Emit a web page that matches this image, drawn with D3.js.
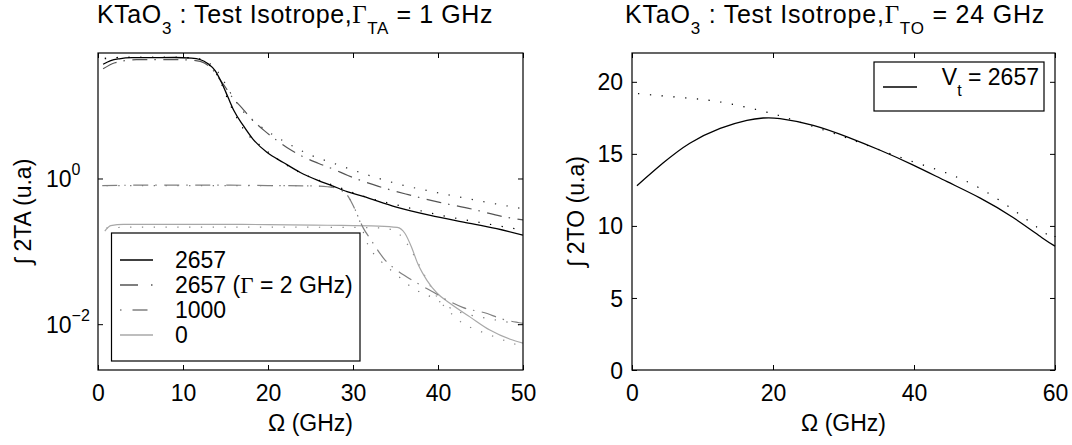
<!DOCTYPE html>
<html>
<head>
<meta charset="utf-8">
<script src="https://cdn.jsdelivr.net/npm/d3@7"></script>
<style>
  html, body { margin: 0; padding: 0; background: #fff; }
  svg text { font-family: "Liberation Sans", Arial, Helvetica, sans-serif; fill: #000; }
</style>
</head>
<body>
<svg id="chart" width="1072" height="445"></svg>
<script>
// ---------------- DATA ----------------
// Left panel: integral 2TA vs Omega (GHz), log scale
const xTicksTA = [0, 10, 20, 30, 40, 50];
const yTicksTA = [0.01, 1];
const yTickExpTA = ["\u22122", "0"];

const ta2657X = [0.6, 1.5, 2.5, 4, 9, 11, 12, 12.9, 13.8, 14.6, 15.3, 16, 17.1, 18.2, 19.9, 21.8, 23.8, 25.8, 27.5, 29.3, 31.2, 35.1, 39.1, 43, 46.9, 50];
const ta2657Y = [37, 41.5, 44, 45.5, 45.8, 45, 43, 38, 30, 20, 13, 8.5, 5.3, 3.5, 2.27, 1.66, 1.21, 0.95, 0.80, 0.66, 0.567, 0.404, 0.311, 0.252, 0.205, 0.167];

const ta2657g2X = [0.6, 2, 4.5, 9.4, 11.5, 12.5, 13.4, 14.2, 14.9, 15.8, 16.9, 17.9, 19.6, 21.1, 22.6, 24.1, 25.9, 27.5, 29.4, 33, 36.5, 40.2, 44, 47.6, 50];
const ta2657g2Y = [32, 38.8, 42.7, 42.7, 41.5, 38.5, 32, 24, 18.5, 13, 9.4, 6.9, 4.5, 3.3, 2.5, 2.0, 1.62, 1.37, 1.1, 0.78, 0.60, 0.47, 0.38, 0.30, 0.27];

const ta1000X = [0.5, 5, 10, 15, 20, 25, 27, 28, 29, 29.5, 30, 30.6, 31.2, 32, 33, 33.8, 34.9, 37.3, 39.1, 41.2, 42.9, 45.8, 47.3, 50];
const ta1000Y = [0.8, 0.81, 0.81, 0.81, 0.8, 0.79, 0.77, 0.74, 0.66, 0.55, 0.43, 0.3, 0.21, 0.15, 0.1, 0.075, 0.058, 0.038, 0.029, 0.021, 0.017, 0.014, 0.012, 0.0103];

const ta0X = [0.8, 1.5, 3, 10, 20, 27, 33, 35.2, 36.1, 36.9, 37.6, 38.7, 39.9, 41.4, 43.8, 46.1, 48.5, 50];
const ta0Y = [0.19, 0.225, 0.235, 0.235, 0.233, 0.228, 0.222, 0.213, 0.177, 0.113, 0.0685, 0.04, 0.0266, 0.0194, 0.0125, 0.0083, 0.0062, 0.0055];

// dotted companion curves (unlabelled)
const dot2657X = [0.8, 2, 4, 9, 11, 12, 12.9, 13.8, 14.6, 15.3, 16.4, 17.1, 19.1, 21.4, 23.8, 26.4, 27.5, 31.8, 35.9, 40, 44.2, 50];
const dot2657Y = [44, 45.5, 46, 46, 45.2, 43, 37.5, 29, 19, 12, 6.6, 4.8, 2.83, 1.76, 1.2, 0.91, 0.82, 0.544, 0.413, 0.318, 0.258, 0.195];

const dotG2X = [0.8, 3, 9, 11.5, 12.7, 13.6, 14.5, 15.3, 16.2, 17.2, 18.7, 20, 22.4, 25, 27.5, 31.6, 35.5, 39.9, 43.8, 50];
const dotG2Y = [45, 46, 46, 45, 41, 34, 25, 17, 11.5, 8, 5.7, 4.4, 3.0, 2.1, 1.65, 1.13, 0.83, 0.64, 0.52, 0.385];

const dot1000X = [1, 5, 10, 15, 20, 25, 27.5, 28.5, 29.5, 30.5, 31.8, 33.2, 35.2, 37.1, 39.4, 42, 45.8, 48.5, 50];
const dot1000Y = [0.8, 0.8, 0.8, 0.8, 0.8, 0.79, 0.76, 0.7, 0.55, 0.32, 0.12, 0.075, 0.047, 0.031, 0.023, 0.0155, 0.012, 0.0105, 0.0095];

const dot0X = [1, 5, 10, 20, 30, 33, 34.5, 35.5, 36.5, 37.5, 38.5, 39.9, 41.8, 42.9, 44.6, 46.1, 48.7, 50];
const dot0Y = [0.21, 0.215, 0.215, 0.215, 0.213, 0.21, 0.2, 0.17, 0.12, 0.075, 0.045, 0.0234, 0.0132, 0.0103, 0.0083, 0.0071, 0.0055, 0.0049];

const legendTA = ["2657", "2657 (\u0393 = 2 GHz)", "1000", "0"];

// Right panel: integral 2TO vs Omega (GHz), linear scale
const xTicksTO = [0, 20, 40, 60];
const yTicksTO = [0, 5, 10, 15, 20];
const toX = [0.7, 4.4, 8.2, 12.5, 16.3, 18.6, 21, 25.7, 30.5, 35.2, 39.9, 44.7, 49.4, 54, 58.1, 60];
const toY = [12.79, 14.36, 15.74, 16.77, 17.33, 17.49, 17.45, 16.98, 16.18, 15.25, 14.22, 13.07, 11.93, 10.6, 9.2, 8.6];
const toDotX = [0.85, 7.2, 12.5, 19.1, 23.8, 30.5, 39.9, 49.4, 58.3, 60];
const toDotY = [19.18, 18.9, 18.6, 17.9, 17.2, 16.1, 14.45, 12.6, 9.6, 9.3];

// ---------------- DRAW ----------------
const svg = d3.select("#chart");
const FS = 23;
const TFS = 25;
const zip = (xs, ys) => xs.map((x, i) => [x, ys[i]]);

function frame(g, x0, x1, y0, y1) {
  g.append("rect").attr("x", x0).attr("y", y0).attr("width", x1 - x0).attr("height", y1 - y0)
    .attr("fill", "none").attr("stroke", "#000").attr("stroke-width", 1.2);
}

// title spread over the span [xa, xb] measured on the reference
function title(xa, xb, y, parts) {
  const t = svg.append("text").attr("x", xa).attr("y", y).attr("text-anchor", "start")
    .style("font-size", TFS + "px");
  let n = 0;
  parts.forEach(p => {
    const s = t.append("tspan").text(p.t);
    n += p.t.length;
    if (p.sub) s.attr("dy", 11).style("font-size", "17px");
    if (p.back) s.attr("dy", -11);
    if (p.ff) s.style("font-family", p.ff);
  });
  const w = t.node().getComputedTextLength();
  const ls = Math.max(0, (xb - xa - w) / n);
  t.style("letter-spacing", ls + "px");
  return t;
}

// ===== LEFT PANEL =====
const L = { x0: 98, x1: 523, y0: 53, y1: 370 };
const xL = d3.scaleLinear().domain([0, 50]).range([L.x0, L.x1]);
const yL = d3.scaleLog().domain([0.00235, 52.8]).range([L.y1, L.y0]);
const gL = svg.append("g");

const clipL = svg.append("clipPath").attr("id", "clipL");
clipL.append("rect").attr("x", L.x0).attr("y", L.y0).attr("width", L.x1 - L.x0).attr("height", L.y1 - L.y0);

const lineL = d3.line().x(d => xL(d[0])).y(d => yL(d[1])).curve(d3.curveMonotoneX);
const curvesL = gL.append("g").attr("clip-path", "url(#clipL)").attr("fill", "none");

const DOT = "1.3,10.5";
const DASHDOT = "15,7,1.5,7.5";
const LW = 1.2;
curvesL.append("path").attr("d", lineL(zip(dotG2X, dotG2Y))).attr("stroke", "#333").attr("stroke-width", LW).attr("stroke-dasharray", DOT);
curvesL.append("path").attr("d", lineL(zip(dot2657X, dot2657Y))).attr("stroke", "#000").attr("stroke-width", LW).attr("stroke-dasharray", DOT);
curvesL.append("path").attr("d", lineL(zip(dot1000X, dot1000Y))).attr("stroke", "#777").attr("stroke-width", LW).attr("stroke-dasharray", DOT);
curvesL.append("path").attr("d", lineL(zip(dot0X, dot0Y))).attr("stroke", "#888").attr("stroke-width", LW).attr("stroke-dasharray", DOT);
curvesL.append("path").attr("d", lineL(zip(ta0X, ta0Y))).attr("stroke", "#a8a8a8").attr("stroke-width", LW);
curvesL.append("path").attr("d", lineL(zip(ta1000X, ta1000Y))).attr("stroke", "#808080").attr("stroke-width", LW).attr("stroke-dasharray", DASHDOT);
curvesL.append("path").attr("d", lineL(zip(ta2657g2X, ta2657g2Y))).attr("stroke", "#555").attr("stroke-width", LW).attr("stroke-dasharray", DASHDOT);
curvesL.append("path").attr("d", lineL(zip(ta2657X, ta2657Y))).attr("stroke", "#000").attr("stroke-width", 1.3);

// axes (ticks inward on all sides)
function styleAxis(sel) {
  sel.select(".domain").remove();
  sel.selectAll(".tick line").attr("stroke", "#000").attr("stroke-width", 1);
  sel.selectAll("text").style("font-size", FS + "px").attr("fill", "#000");
}
const axBL = gL.append("g").attr("transform", `translate(0,${L.y1})`)
  .call(d3.axisBottom(xL).tickValues(xTicksTA).tickSize(-5).tickFormat(d3.format("d")));
styleAxis(axBL);
axBL.selectAll("text").attr("y", 15).attr("dy", "0.71em");
const axTL = gL.append("g").attr("transform", `translate(0,${L.y0})`)
  .call(d3.axisTop(xL).tickValues(xTicksTA).tickSize(-5).tickFormat(""));
styleAxis(axTL);
const axLL = gL.append("g").attr("transform", `translate(${L.x0},0)`)
  .call(d3.axisLeft(yL).tickValues(yTicksTA).tickSize(-5).tickFormat(""));
styleAxis(axLL);
const axRL = gL.append("g").attr("transform", `translate(${L.x1},0)`)
  .call(d3.axisRight(yL).tickValues(yTicksTA).tickSize(-5).tickFormat(""));
styleAxis(axRL);
// log tick labels 10^n
yTicksTA.forEach((v, i) => {
  const yy = yL(v);
  const t = gL.append("text").attr("x", 46).attr("y", yy + 9).style("font-size", FS + "px");
  t.append("tspan").text("10");
  t.append("tspan").attr("dy", -12).style("font-size", "16px").text(yTickExpTA[i]);
});
frame(gL, L.x0, L.x1, L.y0, L.y1);

// labels
svg.append("text").attr("x", (L.x0 + L.x1) / 2).attr("y", 431).attr("text-anchor", "middle")
  .style("font-size", FS + "px").text("\u03A9 (GHz)");
svg.append("text").attr("transform", `translate(31,${(L.y0 + L.y1) / 2}) rotate(-90)`).attr("text-anchor", "middle")
  .style("font-size", FS + "px").text("\u222B 2TA (u.a)");
title(97, 493, 23, [
  { t: "KTaO" }, { t: "3", sub: true }, { t: " : Test Isotrope,", back: true },
  { t: "\u0393", ff: "Liberation Serif" }, { t: "TA", sub: true }, { t: " = 1 GHz", back: true }
]);

// legend left
const legL = gL.append("g");
legL.append("rect").attr("x", 111.5).attr("y", 233).attr("width", 248.5).attr("height", 128)
  .attr("fill", "#fff").attr("stroke", "#000").attr("stroke-width", 1.2);
const legStyles = [
  { c: "#000", d: null },
  { c: "#555", d: "18,13,1.5,10" },
  { c: "#808080", d: "1.5,11,15,20" },
  { c: "#a8a8a8", d: null }
];
legendTA.forEach((lab, i) => {
  const yy = 260 + i * 25;
  const ln = legL.append("line").attr("x1", 120).attr("x2", 153).attr("y1", yy).attr("y2", yy)
    .attr("stroke", legStyles[i].c).attr("stroke-width", 1.3);
  if (legStyles[i].d) ln.attr("stroke-dasharray", legStyles[i].d);
  const t = legL.append("text").attr("x", 175).attr("y", yy + 8).style("font-size", FS + "px");
  if (lab.indexOf("\u0393") >= 0) {
    const parts = lab.split("\u0393");
    t.append("tspan").text(parts[0]);
    t.append("tspan").style("font-family", "Liberation Serif").text("\u0393");
    t.append("tspan").text(parts[1]);
  } else t.text(lab);
});

// ===== RIGHT PANEL =====
const R = { x0: 632, x1: 1055, y0: 53, y1: 370 };
const xR = d3.scaleLinear().domain([0, 60]).range([R.x0, R.x1]);
const yR = d3.scaleLinear().domain([0, 22]).range([R.y1, R.y0]);
const gR = svg.append("g");
const lineR = d3.line().x(d => xR(d[0])).y(d => yR(d[1])).curve(d3.curveNatural);
gR.append("path").attr("d", lineR(zip(toDotX, toDotY))).attr("fill", "none").attr("stroke", "#000")
  .attr("stroke-width", LW).attr("stroke-dasharray", DOT);
gR.append("path").attr("d", lineR(zip(toX, toY))).attr("fill", "none").attr("stroke", "#000").attr("stroke-width", 1.3);

const axBR = gR.append("g").attr("transform", `translate(0,${R.y1})`)
  .call(d3.axisBottom(xR).tickValues(xTicksTO).tickSize(-5).tickFormat(d3.format("d")));
styleAxis(axBR);
axBR.selectAll("text").attr("y", 15).attr("dy", "0.71em");
const axTR = gR.append("g").attr("transform", `translate(0,${R.y0})`)
  .call(d3.axisTop(xR).tickValues(xTicksTO).tickSize(-5).tickFormat(""));
styleAxis(axTR);
const axLR = gR.append("g").attr("transform", `translate(${R.x0},0)`)
  .call(d3.axisLeft(yR).tickValues(yTicksTO).tickSize(-5).tickFormat(d3.format("d")));
styleAxis(axLR);
axLR.selectAll("text").attr("x", -9).attr("dy", "0.35em");
const axRR = gR.append("g").attr("transform", `translate(${R.x1},0)`)
  .call(d3.axisRight(yR).tickValues(yTicksTO).tickSize(-5).tickFormat(""));
styleAxis(axRR);
frame(gR, R.x0, R.x1, R.y0, R.y1);

svg.append("text").attr("x", (R.x0 + R.x1) / 2).attr("y", 431).attr("text-anchor", "middle")
  .style("font-size", FS + "px").text("\u03A9 (GHz)");
svg.append("text").attr("transform", `translate(584,${(R.y0 + R.y1) / 2}) rotate(-90)`).attr("text-anchor", "middle")
  .style("font-size", FS + "px").text("\u222B 2TO (u.a)");
title(625, 1045, 23, [
  { t: "KTaO" }, { t: "3", sub: true }, { t: " : Test Isotrope,", back: true },
  { t: "\u0393", ff: "Liberation Serif" }, { t: "TO", sub: true }, { t: " = 24 GHz", back: true }
]);

// legend right
const legR = gR.append("g");
legR.append("rect").attr("x", 874).attr("y", 62).attr("width", 170).attr("height", 49)
  .attr("fill", "#fff").attr("stroke", "#000").attr("stroke-width", 1.2);
legR.append("line").attr("x1", 883).attr("x2", 917).attr("y1", 87).attr("y2", 87).attr("stroke", "#000").attr("stroke-width", 1.3);
const tR = legR.append("text").attr("x", 1039).attr("y", 85).attr("text-anchor", "end").style("font-size", FS + "px");
tR.append("tspan").text("V");
tR.append("tspan").attr("dy", 11).style("font-size", "16px").text("t");
tR.append("tspan").attr("dy", -11).text(" = 2657");
</script>
</body>
</html>
